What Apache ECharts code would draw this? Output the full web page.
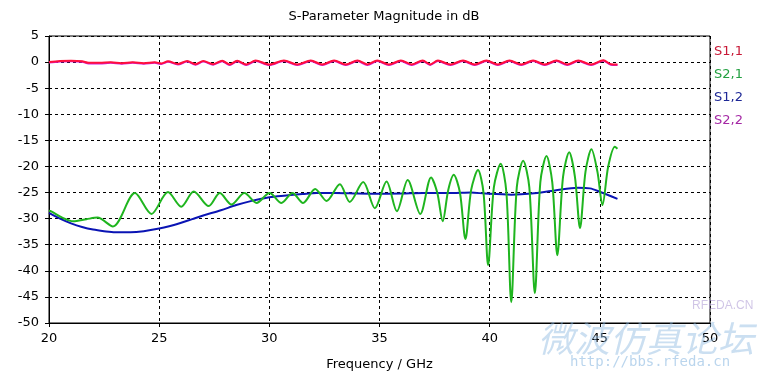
<!DOCTYPE html>
<html>
<head>
<meta charset="utf-8">
<script src="https://cdn.jsdelivr.net/npm/echarts@6/dist/echarts.min.js"></script>
<style>
  html, body { margin: 0; padding: 0; background: #fff; }
  #chart { width: 775px; height: 376px; }
</style>
</head>
<body>
<div id="chart"></div>
<script>
// S-parameter curves, [GHz, dB]
var s11 = [[20.0,0.0],[20.5,0.2],[21.0,0.25],[21.5,0.15],[21.8,-0.15],[22.3,-0.15],[22.8,-0.05],[23.3,-0.2],
  [23.8,-0.05],[24.3,-0.2],[24.8,-0.05],[25.1,-0.25],[25.4,0.15],[25.85,-0.35],[26.27,0.2],[26.65,-0.4],
  [27.0,0.2],[27.45,-0.4],[27.86,0.25],[28.2,-0.45],[28.54,0.25],[28.95,-0.45],[29.38,0.3],[30.0,-0.45],
  [30.66,0.3],[31.27,-0.45],[31.88,0.3],[32.4,-0.45],[32.94,0.3],[33.47,-0.45],[34.0,0.3],[34.45,-0.45],
  [34.9,0.3],[35.43,-0.45],[35.97,0.3],[36.46,-0.45],[36.96,0.3],[37.3,-0.45],[37.65,0.3],[38.22,-0.45],
  [38.79,0.3],[39.32,-0.45],[39.85,0.3],[40.37,-0.45],[40.9,0.3],[41.43,-0.45],[41.97,0.3],[42.5,-0.45],
  [43.03,0.3],[43.52,-0.45],[44.02,0.3],[44.6,-0.45],[45.16,0.35],[45.5,-0.4],[45.8,-0.45]];

var s22 = [[20.0,-0.1],[20.5,0.1],[21.0,0.15],[21.5,0.05],[21.8,-0.25],[22.3,-0.25],[22.8,-0.15],[23.3,-0.3],
  [23.8,-0.15],[24.3,-0.3],[24.8,-0.15],[25.1,-0.35],[25.4,0.05],[25.85,-0.45],[26.27,0.1],[26.65,-0.5],
  [27.0,0.1],[27.45,-0.5],[27.86,0.15],[28.2,-0.55],[28.54,0.15],[28.95,-0.55],[29.38,0.2],[30.0,-0.55],
  [30.66,0.2],[31.27,-0.55],[31.88,0.2],[32.4,-0.55],[32.94,0.2],[33.47,-0.55],[34.0,0.2],[34.45,-0.55],
  [34.9,0.2],[35.43,-0.55],[35.97,0.2],[36.46,-0.55],[36.96,0.2],[37.3,-0.55],[37.65,0.2],[38.22,-0.55],
  [38.79,0.2],[39.32,-0.55],[39.85,0.2],[40.37,-0.55],[40.9,0.2],[41.43,-0.55],[41.97,0.2],[42.5,-0.55],
  [43.03,0.2],[43.52,-0.55],[44.02,0.2],[44.6,-0.55],[45.16,0.25],[45.5,-0.5],[45.8,-0.55]];

var s21 = [[20.0,-28.5],[20.1,-28.6],[20.6,-29.8],[21.1,-30.5],[21.7,-30.1],[22.2,-29.8],[22.9,-31.5],
  [23.9,-25.1],[24.65,-29.1],[25.4,-24.9],[26.0,-27.7],[26.57,-24.8],[27.25,-27.6],[27.75,-25.1],
  [28.28,-27.3],[28.87,-25.1],[29.42,-27.0],[30.01,-25.1],[30.55,-27.0],[31.05,-25.1],[31.53,-27.0],
  [32.08,-24.3],[32.6,-26.6],[33.2,-23.4],[33.65,-26.8],[34.26,-23.0],[34.79,-28.0],[35.32,-22.9],
  [35.79,-28.6],[36.28,-22.6],[36.85,-29.1],[37.34,-22.1],[37.62,-25.0],[37.87,-30.5],[38.12,-24.5],
  [38.37,-21.6],[38.65,-25.0],[38.9,-33.9],[39.16,-24.5],[39.47,-20.7],[39.72,-25.0],[39.93,-38.9],
  [40.19,-24.0],[40.5,-19.5],[40.76,-25.0],[40.98,-46.0],[41.23,-24.0],[41.52,-18.9],[41.8,-24.0],
  [42.05,-44.3],[42.3,-23.0],[42.58,-18.0],[42.84,-23.0],[43.07,-37.0],[43.33,-22.0],[43.61,-17.3],
  [43.87,-22.0],[44.1,-31.8],[44.35,-21.0],[44.62,-16.7],[44.89,-21.0],[45.12,-27.4],[45.38,-20.0],
  [45.68,-16.2],[45.8,-16.6]];

var s12 = [[20.0,-28.9],[20.5,-30.0],[21.0,-30.9],[21.5,-31.6],[22.0,-32.1],[22.5,-32.4],[23.0,-32.6],
  [23.7,-32.6],[24.3,-32.4],[25.0,-31.9],[25.5,-31.4],[26.0,-30.8],[26.5,-30.1],[27.0,-29.4],[27.8,-28.4],
  [28.5,-27.4],[29.2,-26.6],[30.0,-25.9],[30.66,-25.6],[31.5,-25.3],[32.15,-25.1],[33.0,-25.1],[34.0,-25.2],
  [34.9,-25.25],[36.0,-25.2],[37.0,-25.1],[38.3,-25.1],[39.15,-25.0],[39.8,-25.2],[40.98,-25.4],[41.9,-25.2],
  [42.96,-24.6],[44.0,-24.1],[44.55,-24.2],[45.08,-25.0],[45.8,-26.2]];

var seriesNames = ['S1,1', 'S2,1', 'S1,2', 'S2,2'];
var lineColors = ['#ff0f3c', '#1fb51f', '#0a14b4', '#d21ee1'];
var labelColors = ['#c81937', '#23a041', '#1e2896', '#a528a5'];

var chart = echarts.init(document.getElementById('chart'));

function mkSeries(name, data, color, z) {
  return {
    name: name, type: 'line', data: data, smooth: 0.3,
    showSymbol: false, z: z,
    lineStyle: { color: color, width: 2 },
    itemStyle: { color: color }
  };
}

var option = {
  animation: false,
  backgroundColor: '#fff',
  textStyle: { fontFamily: 'DejaVu Sans' },
  title: {
    text: 'S-Parameter Magnitude in dB',
    left: 379, top: 5, textAlign: 'center',
    textStyle: { fontSize: 13, fontWeight: 'normal', color: '#000' }
  },
  legend: {
    orient: 'vertical', right: 27, top: 40,
    icon: 'none', itemWidth: 0, itemHeight: 13, itemGap: 10,
    selectedMode: false,
    data: seriesNames.map(function (n, i) {
      return { name: n, textStyle: { color: labelColors[i], fontSize: 13 } };
    })
  },
  grid: { left: 49, right: 65, top: 36, bottom: 51, show: true, borderColor: '#000', borderWidth: 1 },
  xAxis: {
    type: 'value', min: 20, max: 50, interval: 5,
    name: 'Frequency / GHz', nameLocation: 'middle', nameGap: 35,
    nameTextStyle: { fontSize: 13, color: '#000' },
    axisLine: { onZero: false, lineStyle: { color: '#000' } },
    axisTick: { length: 4, lineStyle: { color: '#000' } },
    axisLabel: { fontSize: 13, color: '#000', margin: 9 },
    splitLine: { lineStyle: { color: '#000', type: [3, 3] } }
  },
  yAxis: {
    type: 'value', min: -50, max: 5, interval: 5,
    axisLine: { show: true, lineStyle: { color: '#000' } },
    axisTick: { show: true, length: 4, lineStyle: { color: '#000' } },
    axisLabel: { fontSize: 13, color: '#000', margin: 10 },
    splitLine: { lineStyle: { color: '#000', type: [3, 3] } }
  },
  series: [
    mkSeries('S2,2', s22, lineColors[3], 2),
    mkSeries('S1,1', s11, lineColors[0], 3),
    mkSeries('S1,2', s12, lineColors[2], 4),
    mkSeries('S2,1', s21, lineColors[1], 5)
  ],
  graphic: [
    { type: 'text', left: 692, top: 300, z: 10, silent: true,
      style: { text: 'RFEDA.CN', fill: 'rgba(170,150,210,0.55)', font: '12px "Liberation Sans"' } },
    { type: 'text', left: 538, top: 320, z: 10, silent: true,
      style: { text: '微波仿真论坛', fill: 'rgba(140,185,225,0.45)', font: 'italic 36px "Noto Sans CJK SC"' } },
    { type: 'text', left: 570, top: 355, z: 10, silent: true,
      style: { text: 'http://bbs.rfeda.cn', fill: 'rgba(140,185,225,0.6)', font: '14px "DejaVu Sans Mono"' } }
  ]
};

chart.setOption(option);
</script>
</body>
</html>
